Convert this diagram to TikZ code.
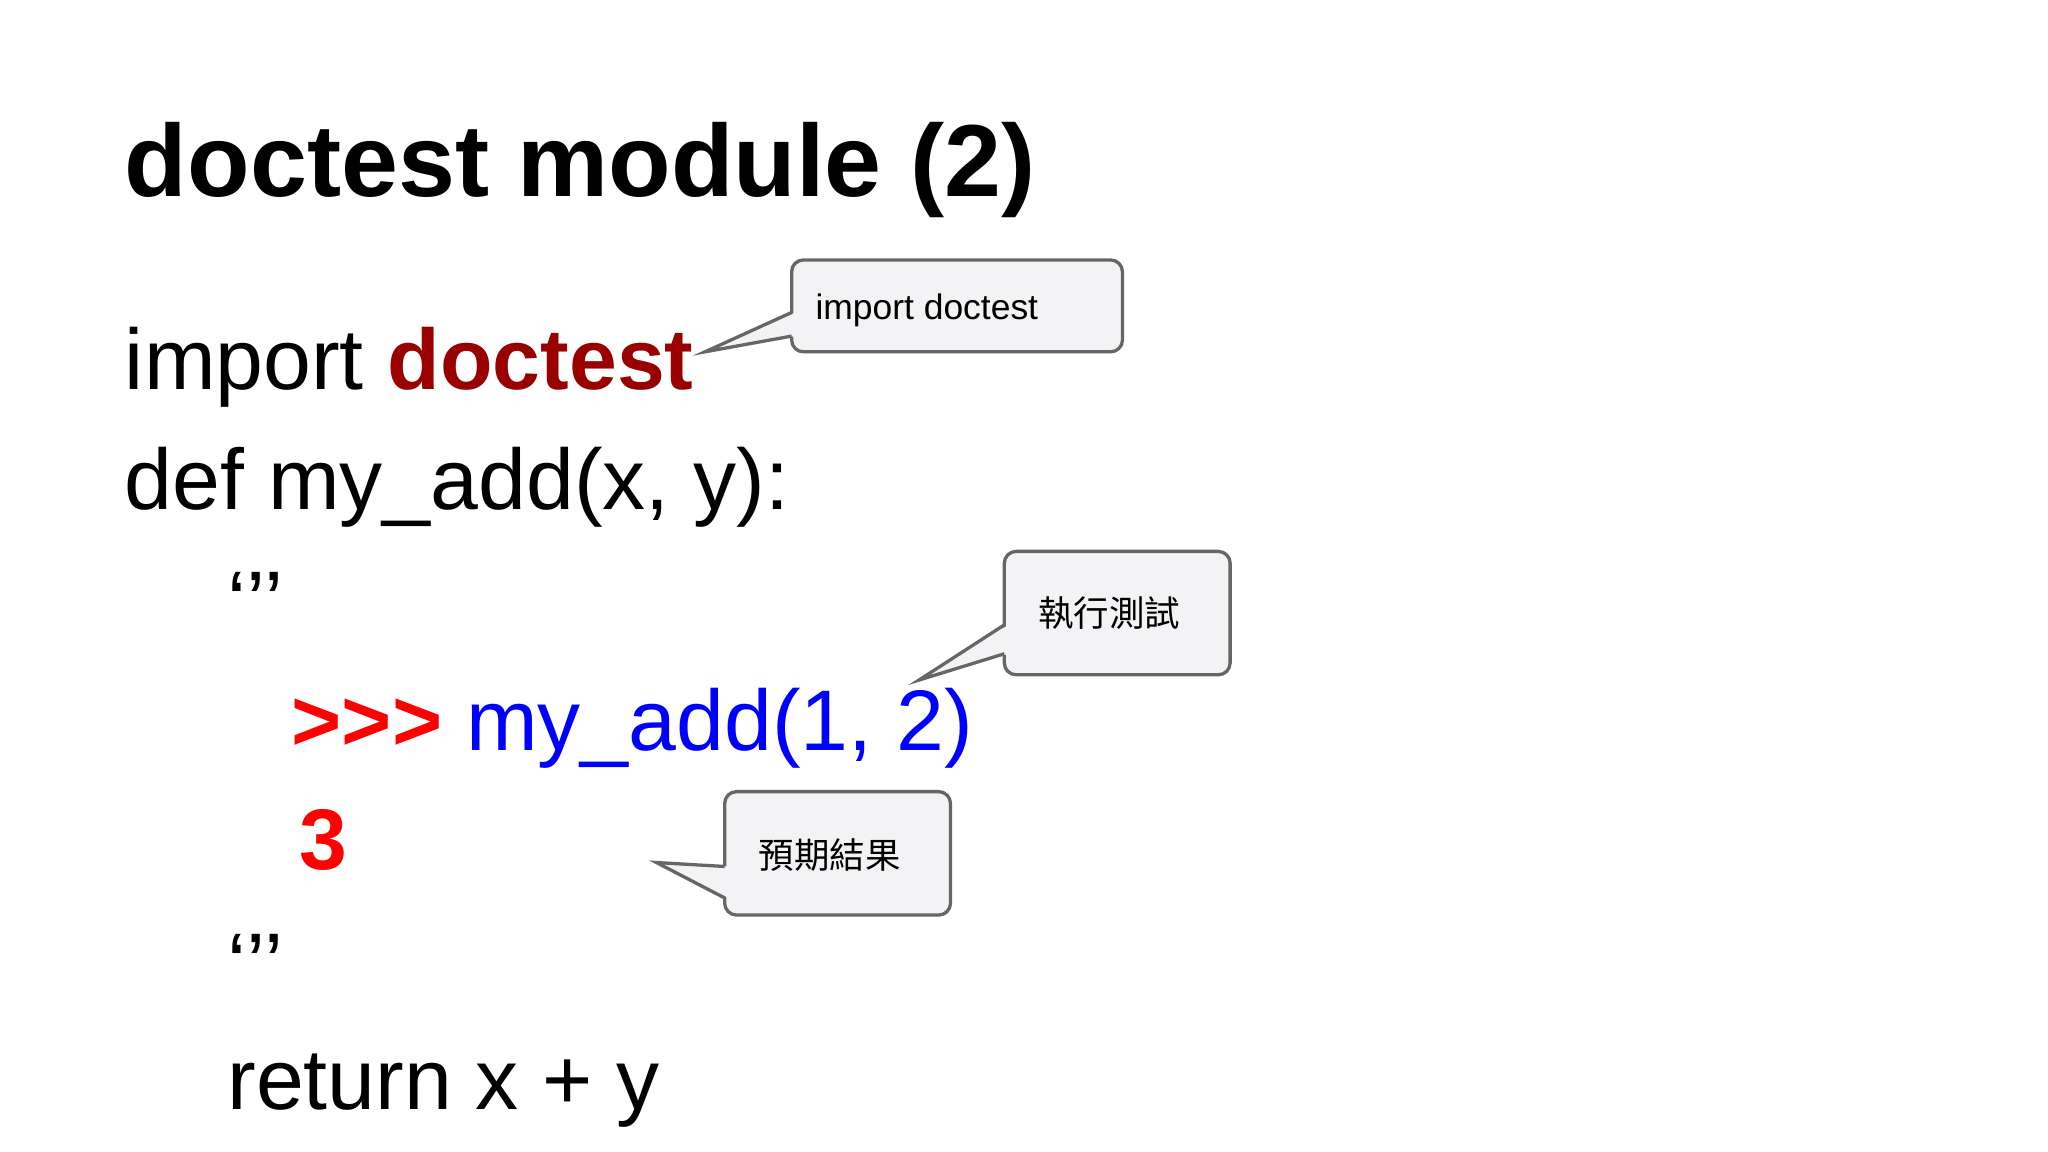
\documentclass[tikz,border=0pt]{standalone}
\usepackage{fontspec}
\setmainfont{Liberation Sans}
\newfontfamily\cjk{Noto Sans CJK TC}
\definecolor{cfill}{HTML}{F3F3F5}
\definecolor{cline}{HTML}{666666}
\definecolor{dred}{HTML}{990000}
\begin{document}
\begin{tikzpicture}[x=1pt,y=-1pt,
  txt/.style={anchor=base west,inner sep=0pt,font=\fontsize{65.5}{80}\selectfont},
  cbox/.style={draw=cline,fill=cfill,line width=2.5pt,rounded corners=9pt},
  ctail/.style={draw=cline,line width=2.5pt,line join=miter},
  ctext/.style={inner sep=0pt,font=\fontsize{27}{32}\selectfont}]
\useasboundingbox[fill=white] (0,0) rectangle (1560,877.5);
\node[txt,font=\fontsize{78}{96}\selectfont\bfseries] (title) at (95,150) {doctest module (2)};
\node[txt] (imp) at (95,297) {import \textbf{\color{dred}doctest}};
\node[txt] (def) at (95,388) {def my\_add(x, y):};
\node[txt] (q1) at (173,481) {‘’’};
\node[txt] (call) at (222,572) {\textbf{\color{red}{>}{>}{>}} \color{blue}my\_add(1, 2)};
\node[txt] (res) at (228,662) {\textbf{\color{red}3}};
\node[txt] (q2) at (173,757) {‘’’};
\node[txt] (ret) at (173,845) {return x + y};
% callout 1
\draw[cbox] (603,198) rectangle (855,268);
\coordinate (t1) at (537,268);
\fill[cfill] (606,238) -- (t1) -- (606,256) -- cycle;
\draw[ctail] (603,238) -- (t1) -- (603,256);
\node[ctext,anchor=base west] (c1) at (621,243) {import doctest};
% callout 2
\draw[cbox] (765,420) rectangle (937,514);
\coordinate (t2) at (700,518);
\fill[cfill] (768,476) -- (t2) -- (768,498) -- cycle;
\draw[ctail] (765,476) -- (t2) -- (765,498);
\node[ctext,font=\fontsize{27}{32}\selectfont\cjk] (c2) at (845,467) {執行測試};
% callout 3
\draw[cbox] (552,603) rectangle (724,697);
\coordinate (t3) at (500,657);
\fill[cfill] (555,660) -- (t3) -- (555,684) -- cycle;
\draw[ctail] (552,660) -- (t3) -- (552,684);
\node[ctext,font=\fontsize{27}{32}\selectfont\cjk] (c3) at (632,651) {預期結果};
\end{tikzpicture}
\end{document}
